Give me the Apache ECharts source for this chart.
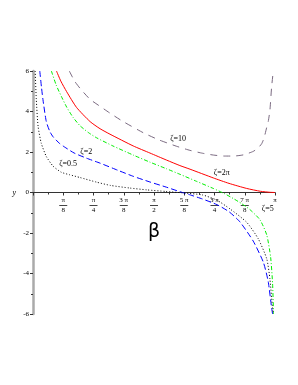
<!DOCTYPE html>
<html><head><meta charset="utf-8">
<script src="https://cdn.jsdelivr.net/npm/echarts@6/dist/echarts.min.js"></script>
<style>html,body{margin:0;padding:0;background:#fff}#c{width:298px;height:385px}</style>
</head><body><div id="c"></div>
<script>
// x values in multiples of pi
const zeta05 = [[0.009,6],[0.0136,4.6],[0.021,3.27],[0.034,2.44],[0.055,1.78],[0.083,1.3],[0.117,1.0],[0.15,0.88],[0.194,0.74],[0.263,0.51],[0.32,0.35],[0.4,0.22],[0.47,0.13],[0.55,0.05],[0.62,-0.02],[0.7,-0.12],[0.76,-0.38],[0.814,-0.81],[0.883,-1.47],[0.931,-2.29],[0.966,-3.28],[0.979,-4.27],[0.989,-5.6],[0.993,-6]];
const zeta2 = [[0.028,6],[0.035,5.2],[0.041,4.6],[0.055,3.5],[0.07,3.0],[0.083,2.75],[0.11,2.42],[0.13,2.25],[0.17,1.95],[0.22,1.7],[0.277,1.45],[0.35,1.1],[0.414,0.8],[0.483,0.52],[0.552,0.26],[0.607,0.04],[0.65,-0.12],[0.7,-0.32],[0.76,-0.6],[0.81,-0.95],[0.855,-1.45],[0.91,-2.4],[0.952,-3.45],[0.972,-4.4],[0.986,-5.7],[0.99,-6]];
const zeta5 = [[0.076,6],[0.096,5.3],[0.117,4.75],[0.139,4.22],[0.165,3.72],[0.194,3.3],[0.23,2.95],[0.263,2.7],[0.33,2.3],[0.414,1.85],[0.483,1.5],[0.552,1.17],[0.607,0.9],[0.676,0.55],[0.745,0.2],[0.79,-0.05],[0.828,-0.3],[0.862,-0.55],[0.897,-0.85],[0.938,-1.35],[0.966,-2.1],[0.982,-3.2],[0.99,-4.5],[0.994,-6]];
const zeta2pi = [[0.097,6],[0.115,5.5],[0.139,4.98],[0.18,4.2],[0.236,3.5],[0.277,3.15],[0.318,2.88],[0.414,2.3],[0.483,1.95],[0.552,1.6],[0.607,1.33],[0.649,1.15],[0.745,0.72],[0.81,0.45],[0.883,0.2],[0.94,0.06],[0.98,0.01],[1.0,0]];
const zeta10 = [[0.15,6],[0.172,5.5],[0.194,5.15],[0.236,4.6],[0.284,4.2],[0.318,3.92],[0.373,3.5],[0.456,2.95],[0.52,2.6],[0.594,2.28],[0.649,2.08],[0.7,1.94],[0.745,1.85],[0.79,1.8],[0.828,1.8],[0.87,1.86],[0.91,2.03],[0.93,2.2],[0.945,2.41],[0.955,2.7],[0.966,3.23],[0.972,3.5],[0.979,4.06],[0.986,5.21],[0.993,6.0]];
const xTickLabels = {1:['π','8'],2:['π','4'],3:['3 π','8'],4:['π','2'],5:['5 π','8'],6:['3 π','4'],7:['7 π','8'],8:['π','']};
const yTickLabels = {'6':'6','4':'4','2':'2','0':'0','-2':'-2','-4':'-4','-6':'-6'};
const curveLabels = [
  {text:'ζ=10', at:[0.6,2.67]},
  {text:'ζ=2π', at:[0.78,0.99]},
  {text:'ζ=5', at:[0.97,-0.8]},
  {text:'ζ=2', at:[0.22,1.98]},
  {text:'ζ=0.5', at:[0.145,1.39]}
];

const font = 'Liberation Serif';
const gridTop = 71, gridBottom = 71, H = 385;
const chart = echarts.init(document.getElementById('c'));
function mk(name, data, color, type, lab){
  return {
    name, type:'line', data, showSymbol:false, smooth:0.2,
    lineStyle:{color, width:1, type},
    silent:true, animation:false,
    markPoint: lab ? {
      symbol:'circle', symbolSize:1, itemStyle:{color:'rgba(0,0,0,0)'},
      label:{show:true, position:'inside', formatter:lab.text, color:'#000', fontFamily:font, fontSize:8},
      data:[{coord:lab.at}]
    } : undefined
  };
}
chart.setOption({
  animation:false,
  backgroundColor:'#fff',
  grid:{left:33, right:23, top:gridTop, bottom:gridBottom},
  xAxis:{
    type:'value', min:0, max:1, interval:0.125,
    position:'bottom',
    offset: -(H - gridTop - gridBottom)/2,
    axisLine:{onZero:false, lineStyle:{color:'#333', width:1}},
    axisTick:{show:true, length:3, lineStyle:{color:'#333'}},
    minorTick:{show:true, splitNumber:2, length:2, lineStyle:{color:'#333'}},
    splitLine:{show:false},
    axisLabel:{
      margin:4, color:'#000', fontFamily:font,
      formatter:function(v){
        const k = Math.round(v*8);
        const t = xTickLabels[k];
        if(!t) return '';
        if(!t[1]) return '{n|'+t[0]+'}';
        return '{n|'+t[0]+'}\n{b| }\n{d|'+t[1]+'}';
      },
      rich:{
        n:{fontSize:7, fontFamily:font, color:'#000', lineHeight:8, align:'center'},
        b:{fontSize:1, height:1, lineHeight:2, width:8, backgroundColor:'#444', align:'center'},
        d:{fontSize:7, fontFamily:font, color:'#000', lineHeight:8, align:'center'}
      }
    },
    name:'β', nameLocation:'middle', nameGap:30,
    nameTextStyle:{fontSize:19, color:'#000', fontFamily:'DejaVu Sans'}
  },
  yAxis:{
    type:'value', min:-6, max:6, interval:2,
    axisLine:{show:true, onZero:false, lineStyle:{color:'#aaa', width:2.5}},
    axisTick:{show:true, length:3, lineStyle:{color:'#333'}},
    minorTick:{show:true, splitNumber:2, length:2, lineStyle:{color:'#333'}},
    splitLine:{show:false},
    axisLabel:{margin:4, fontSize:7, color:'#000', fontFamily:font,
      formatter:function(v){return yTickLabels[String(v)] || '';}},
    name:'y', nameLocation:'middle', nameRotate:0, nameGap:17,
    nameTextStyle:{fontSize:8, fontStyle:'italic', color:'#000', fontFamily:font}
  },
  series:[
    mk('ζ=10', zeta10, '#7a6a80', [7,6], curveLabels[0]),
    mk('ζ=2π', zeta2pi, '#ff0000', 'solid', curveLabels[1]),
    mk('ζ=5', zeta5, '#00ee00', [4,2,1,2], curveLabels[2]),
    mk('ζ=2', zeta2, '#0000ff', [6,3], curveLabels[3]),
    mk('ζ=0.5', zeta05, '#000000', [1,2], curveLabels[4])
  ]
});
</script></body></html>
